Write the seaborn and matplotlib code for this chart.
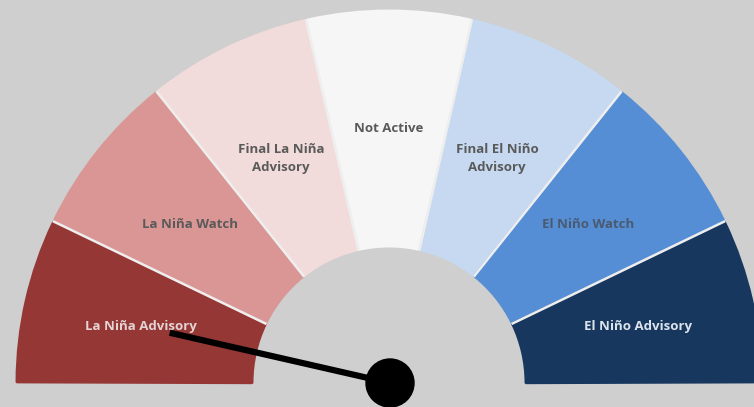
import numpy as np
import matplotlib
matplotlib.use("Agg")
import matplotlib.pyplot as plt
from matplotlib.patches import Wedge, Circle
import seaborn as sns

# gauge categories, left to right
labels = ["La Niña Advisory", "La Niña Watch", "Final La Niña\nAdvisory", "Not Active",
          "Final El Niño\nAdvisory", "El Niño Watch", "El Niño Advisory"]
colors = ["#953735", "#d99694", "#f2dcdb", "#f6f6f6", "#c6d9f1", "#558ed5", "#17375e"]
text_colors = ["#e3d3d3", "#5a5a5a", "#5a5a5a", "#5a5a5a", "#5a5a5a", "#4a5a70", "#dde3ec"]
needle_value = 0.5   # position in segment units (0 = far left, 7 = far right)

sns.set_theme(style="white")
plt.rcParams['font.family'] = ['Open Sans', 'DejaVu Sans']

bg = "#cfcfcf"
fig = plt.figure(figsize=(7.54, 4.07), dpi=100, facecolor=bg)
ax = fig.add_axes([0, 0, 1, 1])
ax.set_facecolor(bg)

# coordinates in pixels, origin at gauge centre
cx, cy = 389, 383
ax.set_xlim(-cx, 754 - cx)
ax.set_ylim(-(407 - cy), cy)
ax.axis("off")

r_out, r_in = 373, 136
n = len(labels)
step = 180.0 / n

for i, (lab, col, tc) in enumerate(zip(labels, colors, text_colors)):
    a1 = 180 - (i + 1) * step
    a2 = 180 - i * step
    w = Wedge((0, 0), r_out - 1.2, a1 + 0.2, a2 - 0.2, width=r_out - r_in - 2.4,
              facecolor=col, edgecolor=col, lw=2.4)
    w.set_joinstyle("round")
    ax.add_patch(w)
    mid = np.deg2rad((a1 + a2) / 2)
    r_lab = 249 if "\n" in lab else 255
    ax.text(r_lab * np.cos(mid), r_lab * np.sin(mid), lab, ha="center", va="center",
            color=tc, fontsize=9.5, fontweight="bold", linespacing=1.55)

# light separators between segments
for i in range(1, n):
    a = np.deg2rad(180 - i * step)
    ax.plot([r_in * np.cos(a), r_out * np.cos(a)], [r_in * np.sin(a), r_out * np.sin(a)],
            color="#eeeeee", lw=1.8, solid_capstyle="butt")

# needle
ang = np.deg2rad(180 - needle_value * step)
ax.plot([1, 1 + 226 * np.cos(ang)], [0, 226 * np.sin(ang)], color="black", lw=4.5,
        solid_capstyle="butt", zorder=5)
ax.add_patch(Circle((1, 0), 24, color="black", zorder=6))

fig.savefig("out.png", dpi=100, facecolor=bg)
